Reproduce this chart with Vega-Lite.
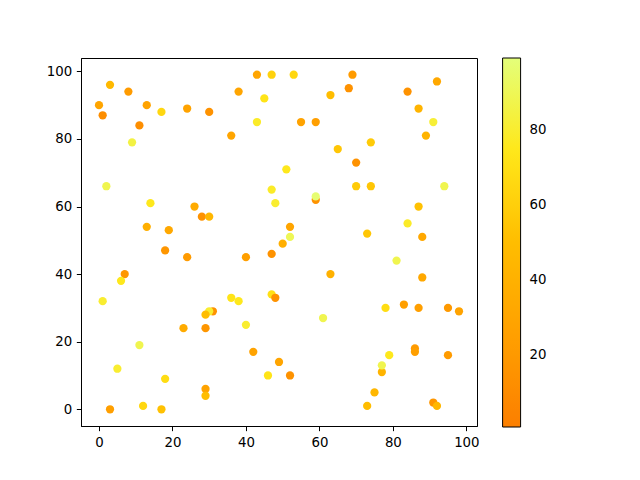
{
  "$schema": "https://vega.github.io/schema/vega-lite/v6.json",
  "width": 396,
  "height": 368,
  "autosize": "none",
  "padding": {"left": 81, "top": 58, "right": 163, "bottom": 54},
  "background": "white",
  "config": {"view": {"stroke": "black", "strokeWidth": 1}, "font": "DejaVu Sans"},
  "data": {"values": [
    {"x": 3, "y": 96, "c": 47}, {"x": 8, "y": 94, "c": 22}, {"x": 0, "y": 90, "c": 30}, {"x": 13, "y": 90, "c": 28},
    {"x": 17, "y": 88, "c": 65}, {"x": 24, "y": 89, "c": 28}, {"x": 30, "y": 88, "c": 15}, {"x": 1, "y": 87, "c": 12},
    {"x": 11, "y": 84, "c": 12}, {"x": 9, "y": 79, "c": 85}, {"x": 2, "y": 66, "c": 88}, {"x": 43, "y": 99, "c": 30},
    {"x": 47, "y": 99, "c": 62}, {"x": 53, "y": 99, "c": 65}, {"x": 69, "y": 99, "c": 22}, {"x": 68, "y": 95, "c": 15},
    {"x": 38, "y": 94, "c": 30}, {"x": 45, "y": 92, "c": 72}, {"x": 63, "y": 93, "c": 50}, {"x": 43, "y": 85, "c": 78},
    {"x": 55, "y": 85, "c": 28}, {"x": 59, "y": 85, "c": 25}, {"x": 36, "y": 81, "c": 30}, {"x": 65, "y": 77, "c": 55},
    {"x": 51, "y": 71, "c": 75}, {"x": 84, "y": 94, "c": 15}, {"x": 92, "y": 97, "c": 32}, {"x": 87, "y": 89, "c": 42},
    {"x": 91, "y": 85, "c": 82}, {"x": 89, "y": 81, "c": 42}, {"x": 74, "y": 79, "c": 58}, {"x": 70, "y": 73, "c": 15},
    {"x": 70, "y": 66, "c": 58}, {"x": 74, "y": 66, "c": 55}, {"x": 94, "y": 66, "c": 88}, {"x": 14, "y": 61, "c": 75},
    {"x": 26, "y": 60, "c": 35}, {"x": 28, "y": 57, "c": 15}, {"x": 30, "y": 57, "c": 45}, {"x": 13, "y": 54, "c": 38},
    {"x": 19, "y": 53, "c": 32}, {"x": 18, "y": 47, "c": 18}, {"x": 24, "y": 45, "c": 22}, {"x": 7, "y": 40, "c": 18},
    {"x": 6, "y": 38, "c": 75}, {"x": 1, "y": 32, "c": 80}, {"x": 47, "y": 65, "c": 78}, {"x": 48, "y": 61, "c": 80},
    {"x": 59, "y": 62, "c": 15}, {"x": 59, "y": 63, "c": 97}, {"x": 52, "y": 54, "c": 30}, {"x": 52, "y": 51, "c": 90},
    {"x": 50, "y": 49, "c": 38}, {"x": 40, "y": 45, "c": 25}, {"x": 47, "y": 46, "c": 15}, {"x": 63, "y": 40, "c": 40},
    {"x": 36, "y": 33, "c": 72}, {"x": 38, "y": 32, "c": 75}, {"x": 47, "y": 34, "c": 70}, {"x": 48, "y": 33, "c": 15},
    {"x": 87, "y": 60, "c": 52}, {"x": 84, "y": 55, "c": 78}, {"x": 73, "y": 52, "c": 55}, {"x": 88, "y": 51, "c": 32},
    {"x": 81, "y": 44, "c": 88}, {"x": 88, "y": 39, "c": 32}, {"x": 83, "y": 31, "c": 25}, {"x": 31, "y": 29, "c": 15},
    {"x": 30, "y": 29, "c": 80}, {"x": 29, "y": 28, "c": 50}, {"x": 23, "y": 24, "c": 35}, {"x": 29, "y": 24, "c": 18},
    {"x": 11, "y": 19, "c": 88}, {"x": 5, "y": 12, "c": 80}, {"x": 18, "y": 9, "c": 68}, {"x": 29, "y": 6, "c": 28},
    {"x": 29, "y": 4, "c": 50}, {"x": 3, "y": 0, "c": 25}, {"x": 12, "y": 1, "c": 65}, {"x": 17, "y": 0, "c": 52},
    {"x": 61, "y": 27, "c": 88}, {"x": 40, "y": 25, "c": 80}, {"x": 42, "y": 17, "c": 28}, {"x": 49, "y": 14, "c": 30},
    {"x": 46, "y": 10, "c": 72}, {"x": 52, "y": 10, "c": 15}, {"x": 78, "y": 30, "c": 68}, {"x": 87, "y": 30, "c": 25},
    {"x": 95, "y": 30, "c": 20}, {"x": 98, "y": 29, "c": 28}, {"x": 86, "y": 18, "c": 22}, {"x": 86, "y": 17, "c": 25},
    {"x": 95, "y": 16, "c": 22}, {"x": 79, "y": 16, "c": 75}, {"x": 77, "y": 11, "c": 42}, {"x": 77, "y": 13, "c": 88},
    {"x": 75, "y": 5, "c": 45}, {"x": 73, "y": 1, "c": 50}, {"x": 91, "y": 2, "c": 18}, {"x": 92, "y": 1, "c": 45}
  ]},
  "mark": {"type": "circle", "size": 68, "opacity": 1},
  "encoding": {
    "x": {
      "field": "x", "type": "quantitative",
      "scale": {"domain": [-4.9, 102.9], "nice": false, "zero": false},
      "axis": {"values": [0, 20, 40, 60, 80, 100], "title": null, "grid": false, "tickSize": 4.67, "labelPadding": 4.67,
               "labelFontSize": 13.33, "labelFont": "DejaVu Sans", "labelColor": "black", "tickColor": "black",
               "domainColor": "black", "labelFlush": false}
    },
    "y": {
      "field": "y", "type": "quantitative",
      "scale": {"domain": [-4.95, 103.95], "nice": false, "zero": false},
      "axis": {"values": [0, 20, 40, 60, 80, 100], "title": null, "grid": false, "tickSize": 4.67, "labelPadding": 4.67,
               "labelFontSize": 13.33, "labelFont": "DejaVu Sans", "labelColor": "black", "tickColor": "black",
               "domainColor": "black", "labelFlush": false}
    },
    "color": {
      "field": "c", "type": "quantitative",
      "scale": {"domain": [1, 99], "range": ["#fc7f00", "#ffa000", "#ffbd00", "#ffe81a", "#e4ff7a"], "interpolate": "rgb"},
      "legend": {"title": null, "orient": "none", "legendX": 421.6, "legendY": 0, "direction": "vertical",
                 "gradientLength": 369, "gradientThickness": 18, "gradientStrokeColor": "black", "gradientStrokeWidth": 1,
                 "values": [20, 40, 60, 80], "labelFontSize": 13.33, "labelFont": "DejaVu Sans", "labelColor": "black",
                 "labelOffset": 9, "labelOverlap": false}
    }
  }
}
